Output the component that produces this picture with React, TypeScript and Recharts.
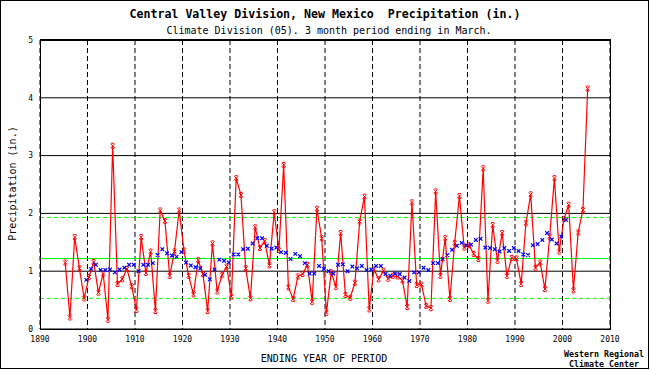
import React from "react";
import {
  ComposedChart,
  Line,
  XAxis,
  YAxis,
  CartesianGrid,
  ReferenceLine,
} from "recharts";

// precipitation (in.), 3 month period ending in March
const years: number[] = [];
for (let y = 1895; y <= 2005; y++) years.push(y);

const precip = [
  1.15, 0.2, 1.59, 1.05, 0.53, 0.9, 1.16, 0.63, 0.96, 0.16,
  3.17, 0.78, 0.86, 1.04, 0.74, 0.33, 1.59, 0.97, 1.34, 0.31,
  2.05, 1.87, 0.92, 1.34, 2.05, 1.36, 0.92, 0.6, 1.19, 0.95,
  0.31, 1.48, 0.65, 0.93, 1.08, 0.56, 2.61, 2.32, 1.05, 0.53,
  1.76, 1.4, 1.52, 1.1, 2.02, 1.37, 2.84, 0.72, 0.52, 0.91,
  0.95, 1.11, 0.47, 2.08, 1.57, 0.28, 0.98, 0.73, 1.66, 0.59,
  0.54, 0.8, 1.86, 2.29, 0.34, 1.03, 0.86, 1.01, 0.87, 0.92,
  0.91, 0.84, 0.38, 2.19, 0.76, 0.77, 0.4, 0.36, 2.38, 0.92,
  1.57, 0.52, 1.49, 2.3, 1.41, 1.45, 1.3, 1.21, 2.78, 0.49,
  1.8, 1.18, 1.66, 0.92, 1.23, 1.22, 0.78, 1.83, 2.33, 1.06,
  1.15, 0.69, 1.6, 2.61, 1.34, 1.9, 2.15, 0.67, 1.67, 2.06,
  4.16,
];

// running mean (blue marks)
const avgYears: number[] = [];
for (let y = 1899; y <= 2000; y++) avgYears.push(y);

const runningMean = [
  0.85, 1.04, 1.11, 1.02, 1.02, 1.03, 0.98, 1.03, 1.06, 1.11,
  1.11, 1.0, 1.11, 1.11, 1.14, 1.28, 1.38, 1.31, 1.27, 1.25,
  1.33, 1.15, 1.1, 1.07, 1.05, 0.94, 0.86, 1.03, 1.2, 1.18,
  1.15, 1.29, 1.29, 1.38, 1.39, 1.48, 1.57, 1.57, 1.44, 1.39,
  1.41, 1.33, 1.32, 1.21, 1.3, 1.26, 1.14, 0.96, 0.96, 1.09,
  1.04, 1.0, 0.96, 1.11, 1.12, 1.0, 1.08, 1.05, 1.09, 1.02,
  1.03, 1.09, 1.09, 0.95, 0.92, 0.96, 0.95, 0.89, 0.83, 0.98,
  0.98, 1.06, 1.02, 1.14, 1.14, 1.21, 1.28, 1.37, 1.44, 1.49,
  1.45, 1.46, 1.54, 1.56, 1.41, 1.4, 1.38, 1.34, 1.4, 1.35,
  1.4, 1.35, 1.29, 1.28, 1.45, 1.47, 1.54, 1.66, 1.55, 1.48,
  1.6, 1.89,
];

const meanValue = 1.22;
const lowerBand = 0.53;
const upperBand = 1.93;

const xTicks = [1890, 1900, 1910, 1920, 1930, 1940, 1950, 1960, 1970, 1980, 1990, 2000, 2010];
const yTicks = [0, 1, 2, 3, 4, 5];

const precipData = years.map((y, i) => ({ x: y + 0.3, precip: precip[i] }));
const avgData = avgYears.map((y, i) => ({ x: y + 0.75, avg: runningMean[i] }));

const mono = "'DejaVu Sans Mono', monospace";

const RedMark = (props: any) => {
  const { cx, cy, key } = props;
  if (cx == null || cy == null) return null;
  return (
    <path
      key={key}
      stroke="#ff0000"
      strokeWidth={1}
      fill="none"
      d={`M${cx - 2},${cy - 2}L${cx + 2},${cy + 2}M${cx - 2},${cy + 2}L${cx + 2},${cy - 2}M${cx - 1.5},${cy - 2.5}H${cx + 1.5}M${cx - 1.5},${cy + 2.5}H${cx + 1.5}`}
    />
  );
};

const BlueMark = (props: any) => {
  const { cx, cy, key } = props;
  if (cx == null || cy == null) return null;
  return (
    <path
      key={key}
      stroke="#0000ff"
      strokeWidth={1.2}
      fill="none"
      d={`M${cx - 1.8},${cy - 1.8}L${cx + 1.8},${cy + 1.8}M${cx - 1.8},${cy + 1.8}L${cx + 1.8},${cy - 1.8}`}
    />
  );
};

export default function App() {
  return (
    <div style={{ position: "absolute", left: 0, top: 0, width: 650, height: 370, background: "#fff" }}>
      <ComposedChart
        width={650}
        height={370}
        margin={{ top: 40, right: 40, bottom: 21, left: 10 }}
      >
        <CartesianGrid vertical={false} stroke="#000" strokeWidth={1} />
        <CartesianGrid horizontal={false} stroke="#000" strokeWidth={1} strokeDasharray="5 3" />
        <XAxis
          type="number"
          dataKey="x"
          domain={[1890, 2010]}
          ticks={xTicks}
          allowDataOverflow
          height={20}
          tickSize={0}
          tickMargin={7}
          axisLine={false}
          tick={{ fill: "#000", fontSize: 8, fontFamily: mono }}
        />
        <YAxis
          type="number"
          domain={[0, 5]}
          ticks={yTicks}
          width={30}
          tickSize={0}
          tickMargin={7}
          axisLine={false}
          tick={{ fill: "#000", fontSize: 8, fontFamily: mono }}
        />
        <ReferenceLine y={lowerBand} stroke="#00ff00" strokeWidth={1} strokeDasharray="4 3" />
        <ReferenceLine y={upperBand} stroke="#00ff00" strokeWidth={1} strokeDasharray="4 3" />
        <ReferenceLine y={meanValue} stroke="#00ff00" strokeWidth={1.2} />
        <Line
          data={precipData}
          dataKey="precip"
          type="linear"
          stroke="#ff0000"
          strokeWidth={1.2}
          dot={RedMark}
          activeDot={false}
          isAnimationActive={false}
        />
        <Line
          data={avgData}
          dataKey="avg"
          type="linear"
          stroke="none"
          dot={BlueMark}
          activeDot={false}
          isAnimationActive={false}
        />
      </ComposedChart>

      {/* plot frame */}
      <div
        style={{
          position: "absolute",
          left: 40,
          top: 39,
          width: 571,
          height: 291,
          boxSizing: "border-box",
          borderTop: "2px solid #000",
          borderLeft: "1px solid #000",
          borderRight: "1px solid #000",
          borderBottom: "1px solid #000",
          pointerEvents: "none",
        }}
      />
      {/* outer border */}
      <div
        style={{
          position: "absolute",
          left: 0,
          top: 0,
          width: 649,
          height: 369,
          boxSizing: "border-box",
          border: "1px solid #000",
          pointerEvents: "none",
        }}
      />

      <div
        style={{
          position: "absolute",
          left: 0,
          width: 650,
          top: 7,
          textAlign: "center",
          fontFamily: mono,
          fontWeight: "bold",
          fontSize: 11.6,
          whiteSpace: "pre",
          paddingLeft: 0,
        }}
      >
        {"Central Valley Division, New Mexico  Precipitation (in.)"}
      </div>
      <div
        style={{
          position: "absolute",
          left: 0,
          width: 658,
          top: 25,
          textAlign: "center",
          fontFamily: mono,
          fontSize: 10,
          whiteSpace: "pre",
        }}
      >
        Climate Division (05). 3 month period ending in March.
      </div>
      <div
        style={{
          position: "absolute",
          left: 12 - 60,
          top: 185 - 7,
          width: 120,
          textAlign: "center",
          transform: "rotate(-90deg)",
          fontFamily: mono,
          fontSize: 10,
          whiteSpace: "pre",
        }}
      >
        Precipitation (in.)
      </div>
      <div
        style={{
          position: "absolute",
          left: 224,
          width: 200,
          top: 353,
          textAlign: "center",
          fontFamily: mono,
          fontSize: 10,
          whiteSpace: "pre",
        }}
      >
        ENDING YEAR OF PERIOD
      </div>
      <div
        style={{
          position: "absolute",
          left: 554,
          width: 100,
          top: 349,
          textAlign: "center",
          fontFamily: mono,
          fontWeight: "bold",
          fontSize: 8.3,
          lineHeight: "10px",
          whiteSpace: "pre",
        }}
      >
        {"Western Regional\nClimate Center"}
      </div>
    </div>
  );
}
